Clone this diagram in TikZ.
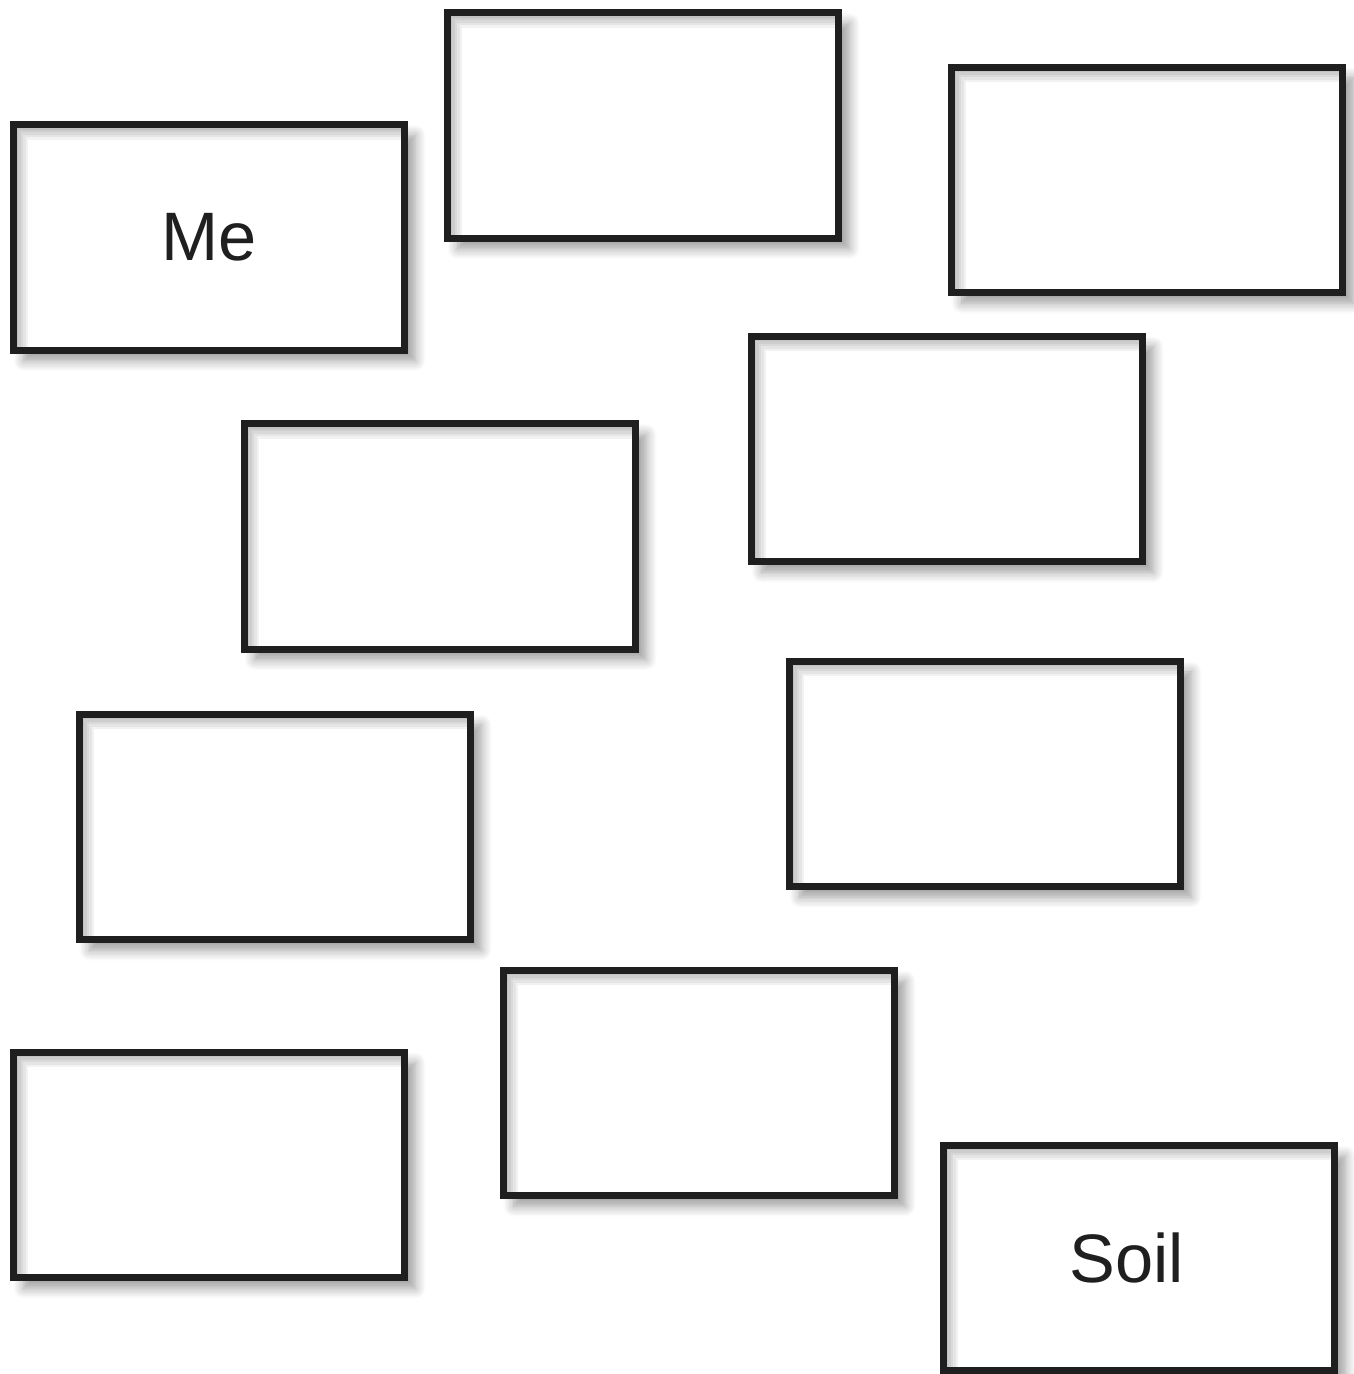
\documentclass[tikz,border=0pt]{standalone}
\usepackage{fontspec}
\setmainfont{Liberation Sans}
\usepackage{tikz}
\usetikzlibrary{shadows.blur,positioning}

\begin{document}
\begin{tikzpicture}[
  x=0.01cm, y=-0.01cm,
  card/.style={rectangle, draw=black!88, fill=white, line width=0.07cm, inner sep=0pt, outer sep=0pt,
    minimum width=3.91cm, minimum height=2.25cm, font=\fontsize{19.5}{22}\selectfont, text=black!88,
    blur shadow={shadow xshift=3pt, shadow yshift=-3pt, shadow blur steps=8, shadow blur radius=3pt, shadow opacity=40},
    path picture={
      \foreach \w in {1,...,6}
        \draw[black, opacity=0.05, line width=\w*1.4pt]
          (path picture bounding box.south west) -- (path picture bounding box.north west)
          -- (path picture bounding box.north east);
    }}
]
  \useasboundingbox (0,0) rectangle (1353,1374);
  \node[card] (me)   at (209, 237.5)  {Me};
  \node[card] (B)    at (643, 125.5)  {};
  \node[card] (C)    at (1147, 180)   {};
  \node[card] (D)    at (947, 449)    {};
  \node[card] (E)    at (440, 536.5)  {};
  \node[card] (F)    at (275, 827)    {};
  \node[card] (G)    at (985, 774)    {};
  \node[card] (H)    at (699, 1083)   {};
  \node[card] (I)    at (209, 1165)   {};
  \node[card] (soil) at (1139, 1258)  {\hspace*{-0.24cm}Soil};
\end{tikzpicture}
\end{document}
